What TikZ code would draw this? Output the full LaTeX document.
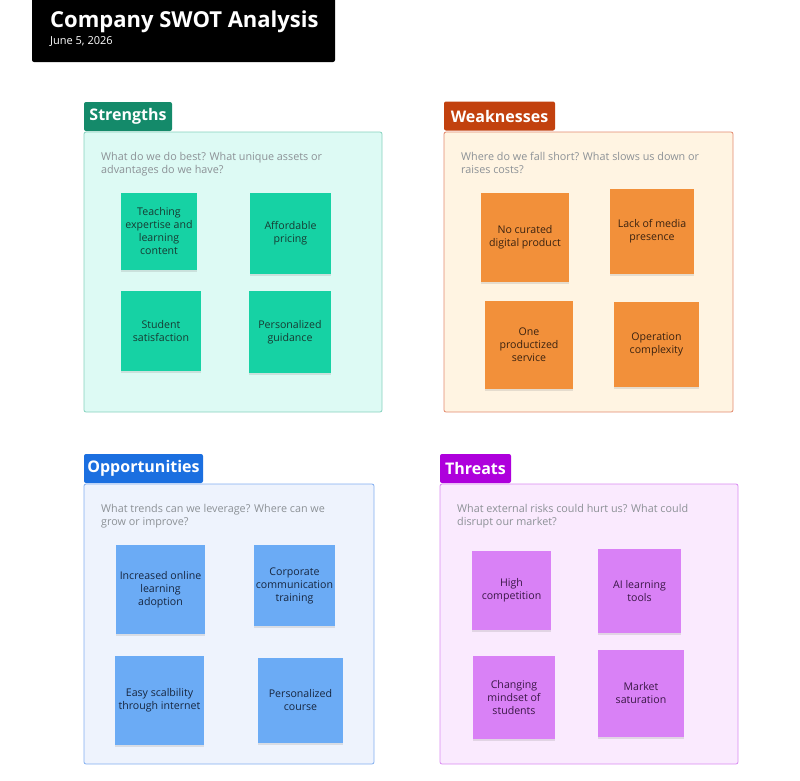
\documentclass[tikz,border=0pt]{standalone}
\usepackage{fontspec}
\setmainfont{Open Sans}
\usetikzlibrary{shadows}
\definecolor{askgray}{HTML}{8C9196}
\definecolor{stag}{HTML}{148A6A}
\definecolor{sfill}{HTML}{DDFAF4}
\definecolor{sline}{HTML}{86D2BE}
\definecolor{snote}{HTML}{16D2A4}
\definecolor{sink}{HTML}{173A32}
\definecolor{wtag}{HTML}{C2410E}
\definecolor{wfill}{HTML}{FFF4E2}
\definecolor{wline}{HTML}{E2896E}
\definecolor{wnote}{HTML}{F2903A}
\definecolor{wink}{HTML}{3A2210}
\definecolor{otag}{HTML}{1B6FE0}
\definecolor{ofill}{HTML}{EEF3FD}
\definecolor{oline}{HTML}{82AEF0}
\definecolor{onote}{HTML}{6BABF5}
\definecolor{oink}{HTML}{17263F}
\definecolor{ttag}{HTML}{AE00DC}
\definecolor{tfill}{HTML}{FAEAFE}
\definecolor{tline}{HTML}{D98BF1}
\definecolor{tnote}{HTML}{D981F6}
\definecolor{tink}{HTML}{3A1746}
\begin{document}
\begin{tikzpicture}
[x=1pt, y=-1pt,
tag/.style={rounded corners=2pt, text=white, font=\bfseries\fontsize{16}{18}\selectfont, inner sep=0pt, minimum height=29pt},
frame/.style={rounded corners=2pt, line width=0.8pt},
ask/.style={anchor=north west, align=left, text=askgray, font=\fontsize{10.8}{13}\selectfont, inner sep=0pt},
note/.style={align=center, font=\fontsize{10.6}{13}\selectfont, inner sep=0pt, drop shadow={shadow xshift=-0.5pt, shadow yshift=-2pt, opacity=0.2}}]
\useasboundingbox (0,0) rectangle (800,780);
\fill [black, rounded corners=2pt] (32,-6) rectangle (335,62);
\node (title) [anchor=base west, text=white, font=\bfseries\fontsize{22}{24}\selectfont, inner sep=0pt] at (50,27) {Company SWOT Analysis};
\node (date) [anchor=base west, text=white, font=\fontsize{11}{12}\selectfont, inner sep=0pt] at (50,44) {June 5, 2026};

\draw [frame, fill=sfill, draw=sline] (84,132) rectangle (382,412);
\node (stag) [tag, fill=stag, minimum width=88pt] at (128,116.5) {Strengths};
\node (sask) [ask] at (101,152.5) {What do we do best? What unique assets or\\advantages do we have?};
\node (s1) [note, fill=snote, text=sink, minimum width=76pt, minimum height=77pt] at (159,231.5) {Teaching\\expertise and\\learning\\content};
\node (s2) [note, fill=snote, text=sink, minimum width=81pt, minimum height=81pt] at (290.5,233.5) {Affordable\\pricing};
\node (s3) [note, fill=snote, text=sink, minimum width=80pt, minimum height=80pt] at (161,331) {Student\\satisfaction};
\node (s4) [note, fill=snote, text=sink, minimum width=82pt, minimum height=82pt] at (290,332) {Personalized\\guidance};

\draw [frame, fill=wfill, draw=wline] (444,132) rectangle (733,412);
\node (wtag) [tag, fill=wtag, minimum width=111pt] at (499.5,116) {Weaknesses};
\node (wask) [ask] at (461,152.5) {Where do we fall short? What slows us down or\\raises costs?};
\node (w1) [note, fill=wnote, text=wink, minimum width=88pt, minimum height=89pt] at (525,237.5) {No curated\\digital product};
\node (w2) [note, fill=wnote, text=wink, minimum width=84pt, minimum height=85pt] at (652,231.5) {Lack of media\\presence};
\node (w3) [note, fill=wnote, text=wink, minimum width=88pt, minimum height=88pt] at (529,345) {One\\productized\\service};
\node (w4) [note, fill=wnote, text=wink, minimum width=85pt, minimum height=85pt] at (656.5,344.5) {Operation\\complexity};

\draw [frame, fill=ofill, draw=oline] (84,484) rectangle (374,764);
\node (otag) [tag, fill=otag, minimum width=119pt] at (143.5,468.5) {Opportunities};
\node (oask) [ask] at (101,504.5) {What trends can we leverage? Where can we\\grow or improve?};
\node (o1) [note, fill=onote, text=oink, minimum width=89pt, minimum height=89pt] at (160.5,589.5) {Increased online\\learning\\adoption};
\node (o2) [note, fill=onote, text=oink, minimum width=81pt, minimum height=81pt] at (294.5,585.5) {Corporate\\communication\\training};
\node (o3) [note, fill=onote, text=oink, minimum width=89pt, minimum height=89pt] at (159.5,700.5) {Easy scalbility\\through internet};
\node (o4) [note, fill=onote, text=oink, minimum width=85pt, minimum height=85pt] at (300.5,700.5) {Personalized\\course};

\draw [frame, fill=tfill, draw=tline] (440,484) rectangle (738,764);
\node (ttag) [tag, fill=ttag, minimum width=71pt] at (475.5,468.5) {Threats};
\node (task) [ask] at (457,504.5) {What external risks could hurt us? What could\\disrupt our market?};
\node (t1) [note, fill=tnote, text=tink, minimum width=79pt, minimum height=79pt] at (511.5,590.5) {High\\competition};
\node (t2) [note, fill=tnote, text=tink, minimum width=83pt, minimum height=84pt] at (639.5,591) {AI learning\\tools};
\node (t3) [note, fill=tnote, text=tink, minimum width=82pt, minimum height=83pt] at (514,697.5) {Changing\\mindset of\\students};
\node (t4) [note, fill=tnote, text=tink, minimum width=86pt, minimum height=87pt] at (641,693.5) {Market\\saturation};
\end{tikzpicture}
\end{document}
